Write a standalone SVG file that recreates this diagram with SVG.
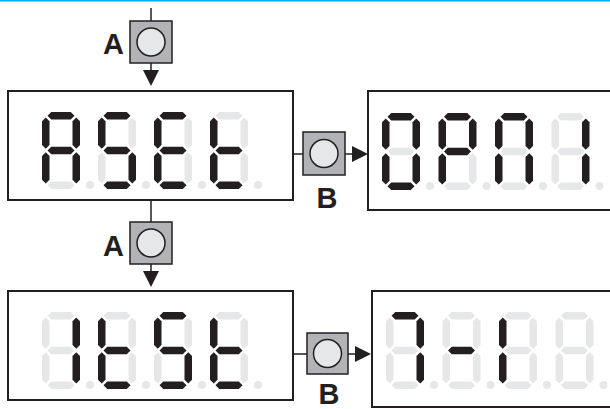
<svg xmlns="http://www.w3.org/2000/svg" xmlns:xlink="http://www.w3.org/1999/xlink" width="610" height="409" viewBox="0 0 610 409">
<style>
.box{fill:#fff;stroke:#231f20;stroke-width:2}
.btn{fill:#b1b3b6;stroke:#231f20;stroke-width:1.5}
.knob{fill:#e6e7e8;stroke:#231f20;stroke-width:1.5}
.line{fill:none;stroke:#231f20;stroke-width:1.5}
.arrow{fill:#231f20}
.on{fill:#231f20}
.off{fill:#e6e7e8}
.lbl{font-family:"Liberation Sans",Arial,sans-serif;font-weight:bold;font-size:29px;fill:#231f20}
</style>
<defs>
<polygon id="sa" points="5.5,3.75 9.25,0 28.75,0 32.5,3.75 28.75,7.5 9.25,7.5"/>
<polygon id="sg" points="5.5,38.5 9.25,34.75 28.75,34.75 32.5,38.5 28.75,42.25 9.25,42.25"/>
<polygon id="sd" points="5.5,73.25 9.25,69.5 28.75,69.5 32.5,73.25 28.75,77 9.25,77"/>
<polygon id="sf" points="3.75,5.5 7.5,9.25 7.5,33 3.75,36.75 0,33 0,9.25"/>
<polygon id="se" points="3.75,40.25 7.5,44 7.5,67.75 3.75,71.5 0,67.75 0,44"/>
<polygon id="sb" points="34.25,5.5 38,9.25 38,33 34.25,36.75 30.5,33 30.5,9.25"/>
<polygon id="sc" points="34.25,40.25 38,44 38,67.75 34.25,71.5 30.5,67.75 30.5,44"/>
<circle id="sp" cx="48" cy="73" r="4"/>
</defs>
<line x1="0" y1="0.75" x2="610" y2="0.75" stroke="#00aeef" stroke-width="1.5"/>

<g id="connectors">
<line class="line" x1="151" y1="8" x2="151" y2="21"/>
<line class="line" x1="151" y1="63" x2="151" y2="72"/>
<polygon class="arrow" points="143,70 159,70 151,86"/>
<line class="line" x1="151" y1="200" x2="151" y2="222"/>
<line class="line" x1="151" y1="264" x2="151" y2="273"/>
<polygon class="arrow" points="143,271 159,271 151,287"/>
<line class="line" x1="293" y1="154" x2="303" y2="154"/>
<line class="line" x1="345" y1="154" x2="354" y2="154"/>
<polygon class="arrow" points="352,146 352,162 368,154"/>
<line class="line" x1="293" y1="354" x2="307" y2="354"/>
<line class="line" x1="348" y1="354" x2="357" y2="354"/>
<polygon class="arrow" points="355,346 355,362 371,354"/>
</g>

<g id="buttonA1">
<rect class="btn" x="130" y="21" width="42" height="42"/>
<circle class="knob" cx="151" cy="42" r="14"/>
<text class="lbl" x="124" y="54" text-anchor="end">A</text>
</g>
<g id="buttonA2">
<rect class="btn" x="130" y="222" width="42" height="42"/>
<circle class="knob" cx="151" cy="243" r="14"/>
<text class="lbl" x="124" y="256" text-anchor="end">A</text>
</g>
<g id="buttonB1">
<rect class="btn" x="303" y="132" width="42" height="43"/>
<circle class="knob" cx="324" cy="153.5" r="14"/>
<text class="lbl" x="327" y="208" text-anchor="middle">B</text>
</g>
<g id="buttonB2">
<rect class="btn" x="307" y="333" width="41" height="41"/>
<circle class="knob" cx="327.5" cy="353.5" r="14"/>
<text class="lbl" x="329" y="404" text-anchor="middle">B</text>
</g>

<g id="display1">
<rect class="box" x="8" y="91" width="285" height="109"/>
<g transform="translate(42,112)"><use href="#sa" class="on"/><use href="#sb" class="on"/><use href="#sc" class="on"/><use href="#sd" class="off"/><use href="#se" class="on"/><use href="#sf" class="on"/><use href="#sg" class="on"/><use href="#sp" class="off"/></g>
<g transform="translate(98,112)"><use href="#sa" class="on"/><use href="#sb" class="off"/><use href="#sc" class="on"/><use href="#sd" class="on"/><use href="#se" class="off"/><use href="#sf" class="on"/><use href="#sg" class="on"/><use href="#sp" class="off"/></g>
<g transform="translate(154,112)"><use href="#sa" class="on"/><use href="#sb" class="off"/><use href="#sc" class="off"/><use href="#sd" class="on"/><use href="#se" class="on"/><use href="#sf" class="on"/><use href="#sg" class="on"/><use href="#sp" class="off"/></g>
<g transform="translate(210,112)"><use href="#sa" class="off"/><use href="#sb" class="off"/><use href="#sc" class="off"/><use href="#sd" class="on"/><use href="#se" class="on"/><use href="#sf" class="on"/><use href="#sg" class="on"/><use href="#sp" class="off"/></g>
</g>

<g id="display2">
<rect class="box" x="368" y="91" width="250" height="119"/>
<g transform="translate(382,113)"><use href="#sa" class="on"/><use href="#sb" class="on"/><use href="#sc" class="on"/><use href="#sd" class="on"/><use href="#se" class="on"/><use href="#sf" class="on"/><use href="#sg" class="off"/><use href="#sp" class="off"/></g>
<g transform="translate(438.5,113)"><use href="#sa" class="on"/><use href="#sb" class="on"/><use href="#sc" class="off"/><use href="#sd" class="off"/><use href="#se" class="on"/><use href="#sf" class="on"/><use href="#sg" class="on"/><use href="#sp" class="off"/></g>
<g transform="translate(495,113)"><use href="#sa" class="on"/><use href="#sb" class="on"/><use href="#sc" class="on"/><use href="#sd" class="off"/><use href="#se" class="on"/><use href="#sf" class="on"/><use href="#sg" class="off"/><use href="#sp" class="off"/></g>
<g transform="translate(551.5,113)"><use href="#sa" class="off"/><use href="#sb" class="on"/><use href="#sc" class="on"/><use href="#sd" class="off"/><use href="#se" class="off"/><use href="#sf" class="off"/><use href="#sg" class="off"/><use href="#sp" class="off"/></g>
</g>

<g id="display3">
<rect class="box" x="8" y="291" width="285" height="109"/>
<g transform="translate(42,312)"><use href="#sa" class="off"/><use href="#sb" class="on"/><use href="#sc" class="on"/><use href="#sd" class="off"/><use href="#se" class="off"/><use href="#sf" class="off"/><use href="#sg" class="off"/><use href="#sp" class="off"/></g>
<g transform="translate(98,312)"><use href="#sa" class="off"/><use href="#sb" class="off"/><use href="#sc" class="off"/><use href="#sd" class="on"/><use href="#se" class="on"/><use href="#sf" class="on"/><use href="#sg" class="on"/><use href="#sp" class="off"/></g>
<g transform="translate(154,312)"><use href="#sa" class="on"/><use href="#sb" class="off"/><use href="#sc" class="on"/><use href="#sd" class="on"/><use href="#se" class="off"/><use href="#sf" class="on"/><use href="#sg" class="on"/><use href="#sp" class="off"/></g>
<g transform="translate(210,312)"><use href="#sa" class="off"/><use href="#sb" class="off"/><use href="#sc" class="off"/><use href="#sd" class="on"/><use href="#se" class="on"/><use href="#sf" class="on"/><use href="#sg" class="on"/><use href="#sp" class="off"/></g>
</g>

<g id="display4">
<rect class="box" x="372" y="291" width="250" height="116"/>
<g transform="translate(386,312)"><use href="#sa" class="on"/><use href="#sb" class="on"/><use href="#sc" class="on"/><use href="#sd" class="off"/><use href="#se" class="off"/><use href="#sf" class="off"/><use href="#sg" class="off"/><use href="#sp" class="off"/></g>
<g transform="translate(442.5,312)"><use href="#sa" class="off"/><use href="#sb" class="off"/><use href="#sc" class="off"/><use href="#sd" class="off"/><use href="#se" class="off"/><use href="#sf" class="off"/><use href="#sg" class="on"/><use href="#sp" class="off"/></g>
<g transform="translate(499,312)"><use href="#sa" class="off"/><use href="#sb" class="off"/><use href="#sc" class="off"/><use href="#sd" class="off"/><use href="#se" class="on"/><use href="#sf" class="on"/><use href="#sg" class="off"/><use href="#sp" class="off"/></g>
<g transform="translate(555.5,312)"><use href="#sa" class="off"/><use href="#sb" class="off"/><use href="#sc" class="off"/><use href="#sd" class="off"/><use href="#se" class="off"/><use href="#sf" class="off"/><use href="#sg" class="off"/><use href="#sp" class="off"/></g>
</g>
</svg>
